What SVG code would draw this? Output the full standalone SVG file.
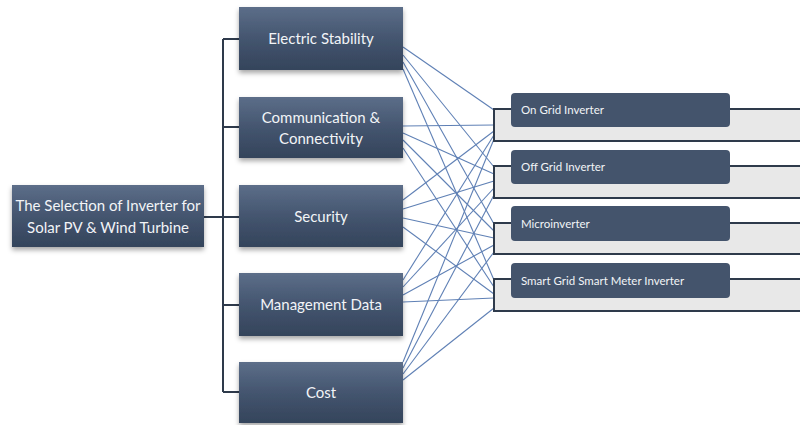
<svg xmlns="http://www.w3.org/2000/svg" width="800" height="425" viewBox="0 0 800 425">
  <style>
    .box { fill: url(#boxGrad); filter: url(#shadow); }
    .tag { fill: #44546c; }
    .lbl { font-family: Lato, "Liberation Sans", sans-serif; font-size: 15px; fill: #f2f4f7; text-anchor: middle; }
    .tlbl { font-family: Lato, "Liberation Sans", sans-serif; font-size: 11.5px; fill: #f2f4f7; }
    .bus { stroke: #2e3a4b; stroke-width: 2; fill: none; }
    .link { stroke: #5f80b5; stroke-width: 1.1; fill: none; }
    .band { fill: #e8e8e8; }
  </style>
  <defs>
    <linearGradient id="boxGrad" x1="0" y1="0" x2="0" y2="1">
      <stop offset="0" stop-color="#5c6e89"/>
      <stop offset="0.5" stop-color="#44556f"/>
      <stop offset="1" stop-color="#34445b"/>
    </linearGradient>
    <filter id="shadow" x="-10%" y="-10%" width="120%" height="140%">
      <feDropShadow dx="0" dy="3" stdDeviation="2.5" flood-color="#000" flood-opacity="0.35"/>
    </filter>
  </defs>

  <rect width="800" height="425" fill="#ffffff"/>

  <!-- inverter bands (background) -->
  <g id="bands">
    <rect class="band" x="494" y="109" width="306" height="32"/>
    <rect class="band" x="494" y="166" width="306" height="32"/>
    <rect class="band" x="494" y="223" width="306" height="31"/>
    <rect class="band" x="494" y="279" width="306" height="32"/>
  </g>

  <!-- connectors -->
  <g id="connectors">
    <!-- tree bus -->
    <path class="bus" d="M204 217 H223 M223 39 V392 M223 39 H239 M223 127 H239 M223 217 H239 M223 305 H239 M223 392 H239"/>
    <!-- criteria to inverter types -->
    <g class="link">
      <line x1="403" y1="47" x2="494" y2="110"/>
      <line x1="403" y1="55" x2="494" y2="167"/>
      <line x1="403" y1="62" x2="494" y2="224"/>
      <line x1="403" y1="69" x2="494" y2="280"/>
      <line x1="403" y1="126" x2="494" y2="125"/>
      <line x1="403" y1="133" x2="494" y2="174"/>
      <line x1="403" y1="140" x2="494" y2="231"/>
      <line x1="403" y1="148" x2="494" y2="287"/>
      <line x1="403" y1="200" x2="494" y2="131"/>
      <line x1="403" y1="209" x2="494" y2="181"/>
      <line x1="403" y1="218" x2="494" y2="238"/>
      <line x1="403" y1="227" x2="494" y2="294"/>
      <line x1="403" y1="280" x2="494" y2="135"/>
      <line x1="403" y1="287" x2="494" y2="188"/>
      <line x1="403" y1="295" x2="494" y2="245"/>
      <line x1="403" y1="302" x2="494" y2="298"/>
      <line x1="403" y1="362" x2="494" y2="139"/>
      <line x1="403" y1="368" x2="494" y2="195"/>
      <line x1="403" y1="374" x2="494" y2="252"/>
      <line x1="403" y1="380" x2="494" y2="308"/>
    </g>
    <!-- inverter brackets -->
    <path class="bus" d="M511 109 H494 V141 H800 M730 109 H800"/>
    <path class="bus" d="M511 166 H494 V198 H800 M730 166 H800"/>
    <path class="bus" d="M511 223 H494 V254 H800 M730 223 H800"/>
    <path class="bus" d="M511 279 H494 V311 H800 M730 279 H800"/>
  </g>

  <!-- root -->
  <g id="root">
    <rect class="box" x="12" y="185" width="192" height="62"/>
    <text class="lbl" x="108" y="211">The Selection of Inverter for</text>
    <text class="lbl" x="108" y="233">Solar PV &amp; Wind Turbine</text>
  </g>

  <!-- criteria -->
  <g id="electric-stability">
    <rect class="box" x="239" y="7" width="164" height="63"/>
    <text class="lbl" x="321" y="44">Electric Stability</text>
  </g>
  <g id="communication">
    <rect class="box" x="239" y="97" width="164" height="61"/>
    <text class="lbl" x="321" y="123">Communication &amp;</text>
    <text class="lbl" x="321" y="144">Connectivity</text>
  </g>
  <g id="security">
    <rect class="box" x="239" y="185" width="164" height="62"/>
    <text class="lbl" x="321" y="222">Security</text>
  </g>
  <g id="management-data">
    <rect class="box" x="239" y="273" width="164" height="63"/>
    <text class="lbl" x="321" y="310">Management Data</text>
  </g>
  <g id="cost">
    <rect class="box" x="239" y="362" width="164" height="61"/>
    <text class="lbl" x="321" y="398">Cost</text>
  </g>

  <!-- inverter types -->
  <g id="on-grid">
    <rect class="tag" x="511" y="93" width="219" height="34" rx="4"/>
    <text class="tlbl" x="521" y="114">On Grid Inverter</text>
  </g>
  <g id="off-grid">
    <rect class="tag" x="511" y="150" width="219" height="34" rx="4"/>
    <text class="tlbl" x="521" y="171">Off Grid Inverter</text>
  </g>
  <g id="microinverter">
    <rect class="tag" x="511" y="206" width="219" height="35" rx="4"/>
    <text class="tlbl" x="521" y="228">Microinverter</text>
  </g>
  <g id="smart-grid">
    <rect class="tag" x="511" y="263" width="219" height="35" rx="4"/>
    <text class="tlbl" x="521" y="285">Smart Grid Smart Meter Inverter</text>
  </g>
</svg>
